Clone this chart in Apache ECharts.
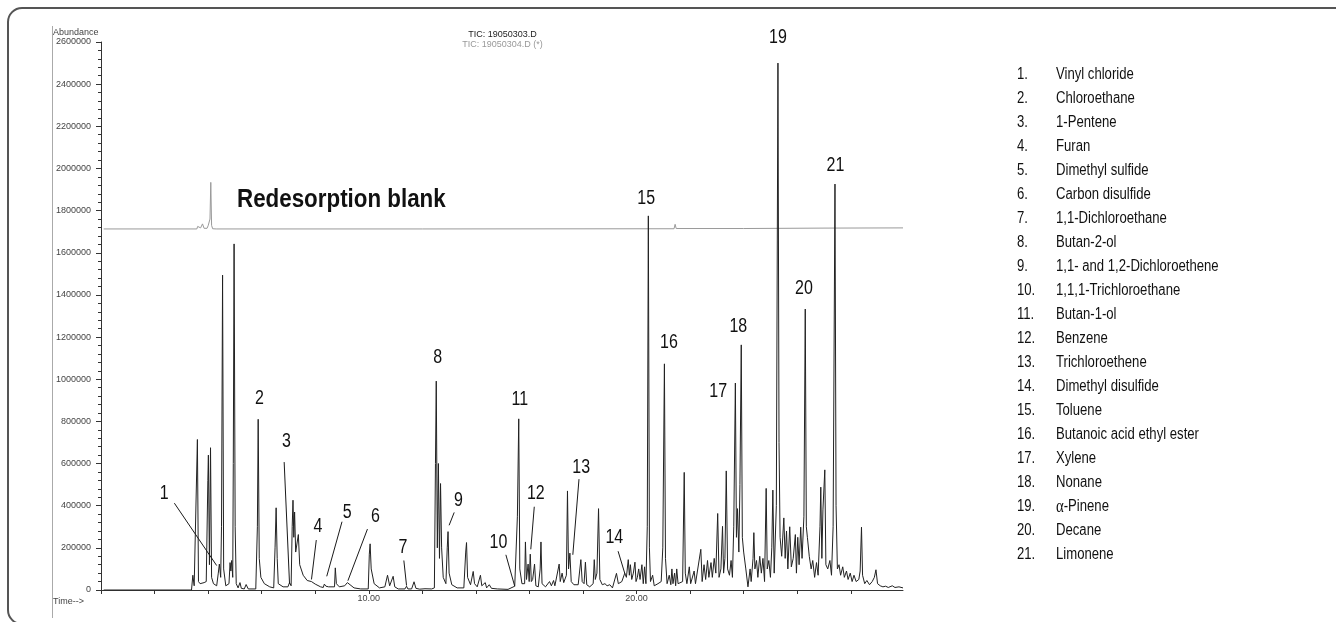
<!DOCTYPE html>
<html>
<head>
<meta charset="utf-8">
<script src="https://cdn.jsdelivr.net/npm/echarts@6/dist/echarts.min.js"></script>
<style>
html,body{margin:0;padding:0;background:#fff;}
#chart{width:1336px;height:622px;}
</style>
</head>
<body>
<div id="chart"></div>
<script>
// ---- Sample chromatogram (TIC: 19050303.D), retention time in minutes ----
const times = [0.1,3.38,3.43,3.48,3.55,3.60,3.64,3.70,3.85,3.93,3.99,4.01,4.05,4.09,4.13,4.20,4.32,4.38,4.42,4.47,4.50,4.54,4.58,4.66,4.78,4.82,4.85,4.88,4.92,4.94,4.97,5.01,5.05,5.12,5.19,5.24,5.35,5.42,5.50,5.78,5.84,5.87,5.91,5.97,6.10,6.30,6.45,6.50,6.54,6.58,6.62,6.80,6.98,7.04,7.10,7.14,7.17,7.20,7.23,7.27,7.32,7.37,7.42,7.55,7.70,7.86,8.00,8.20,8.30,8.34,8.40,8.50,8.72,8.75,8.79,8.90,9.10,9.20,9.30,9.45,9.70,9.98,10.02,10.05,10.09,10.20,10.40,10.60,10.70,10.78,10.85,10.91,10.97,11.10,11.35,11.41,11.46,11.60,11.69,11.76,11.90,12.10,12.35,12.45,12.49,12.52,12.56,12.60,12.64,12.68,12.72,12.78,12.88,12.93,12.96,13.00,13.10,13.30,13.55,13.62,13.65,13.69,13.80,13.90,13.95,14.05,14.17,14.22,14.35,14.40,14.50,14.58,14.80,15.20,15.45,15.50,15.55,15.60,15.64,15.72,15.82,15.85,15.89,15.95,15.99,16.03,16.07,16.12,16.19,16.24,16.33,16.40,16.43,16.47,16.60,16.75,16.82,16.90,16.95,17.11,17.15,17.22,17.28,17.38,17.42,17.46,17.51,17.56,17.66,17.73,17.82,17.92,17.97,18.04,18.09,18.14,18.25,18.38,18.42,18.46,18.52,18.58,18.63,18.72,18.82,18.90,19.00,19.10,19.25,19.32,19.45,19.56,19.62,19.69,19.73,19.77,19.82,19.88,19.94,19.98,20.03,20.08,20.13,20.20,20.25,20.30,20.35,20.40,20.44,20.48,20.52,20.60,20.66,20.80,20.92,20.98,21.04,21.08,21.14,21.22,21.28,21.32,21.36,21.42,21.46,21.50,21.55,21.72,21.78,21.82,21.88,21.97,22.02,22.15,22.20,22.40,22.45,22.52,22.58,22.65,22.70,22.78,22.83,22.90,22.96,23.03,23.08,23.15,23.21,23.25,23.30,23.35,23.40,23.47,23.53,23.58,23.63,23.69,23.73,23.77,23.82,23.86,23.91,23.95,24.00,24.08,24.16,24.24,24.28,24.35,24.38,24.42,24.48,24.53,24.60,24.66,24.72,24.78,24.84,24.88,24.94,25.00,25.05,25.09,25.14,25.22,25.28,25.32,25.36,25.42,25.50,25.55,25.60,25.65,25.72,25.78,25.85,25.93,25.97,26.02,26.07,26.13,26.18,26.25,26.30,26.34,26.38,26.45,26.52,26.58,26.65,26.72,26.78,26.85,26.88,26.92,26.96,27.03,27.07,27.14,27.22,27.28,27.34,27.41,27.45,27.50,27.56,27.62,27.70,27.76,27.84,27.90,27.98,28.05,28.12,28.20,28.30,28.35,28.40,28.44,28.52,28.60,28.70,28.80,28.88,28.94,29.00,29.10,29.20,29.30,29.40,29.55,29.65,29.80,29.95];
const abundance = [0,0,70000,20000,25000,714000,40000,30000,35000,40000,520000,640000,120000,675000,60000,30000,20000,80000,123000,60000,300000,1494000,100000,20000,30000,130000,90000,140000,60000,600000,1642000,300000,30000,10000,35000,8000,5000,26000,5000,5000,300000,810000,150000,60000,30000,15000,10000,200000,390000,150000,30000,15000,15000,35000,20000,300000,426000,250000,370000,180000,180000,263000,120000,70000,45000,40000,28000,15000,12000,28000,18000,15000,15000,105000,30000,15000,20000,35000,25000,10000,5000,5000,170000,219000,100000,30000,10000,15000,70000,20000,25000,65000,15000,5000,5000,18000,5000,5000,39000,8000,4000,6000,5000,10000,600000,991000,200000,600000,150000,505000,200000,60000,30000,200000,277000,80000,25000,10000,10000,180000,225000,60000,25000,88000,30000,15000,70000,20000,35000,10000,25000,8000,5000,3000,18000,10000,350000,812000,100000,30000,30000,228000,50000,123000,40000,170000,40000,50000,123000,20000,15000,100000,228000,30000,15000,40000,20000,45000,20000,123000,40000,80000,35000,70000,470000,100000,175000,40000,25000,20000,25000,144000,40000,30000,132000,25000,15000,30000,144000,50000,80000,386000,50000,25000,30000,20000,25000,10000,79000,30000,40000,80000,60000,144000,70000,120000,50000,80000,132000,40000,60000,100000,50000,120000,30000,110000,30000,300000,1775000,200000,40000,70000,20000,30000,40000,200000,1073000,150000,30000,70000,25000,100000,30000,80000,20000,100000,30000,40000,558000,80000,30000,110000,30000,90000,30000,193000,40000,120000,50000,140000,60000,130000,60000,150000,80000,363000,60000,100000,302000,80000,150000,565000,100000,70000,140000,60000,300000,982000,250000,386000,180000,500000,1163000,250000,180000,100000,15000,100000,40000,150000,272000,100000,140000,60000,160000,80000,150000,40000,482000,100000,140000,60000,200000,474000,80000,400000,2500000,700000,250000,160000,342000,150000,280000,100000,300000,110000,150000,263000,80000,250000,120000,298000,150000,350000,1333000,300000,250000,160000,100000,140000,60000,130000,70000,300000,488000,150000,380000,570000,120000,100000,140000,70000,300000,1926000,400000,100000,120000,70000,110000,60000,90000,50000,80000,40000,70000,40000,50000,90000,298000,70000,30000,45000,25000,40000,60000,96000,30000,20000,15000,18000,12000,20000,12000,15000,10000];

// ---- Redesorption blank (TIC: 19050304.D, offset trace) ----
const blankTimes = [0.1,3.58,3.61,3.65,3.72,3.79,3.85,3.96,4.00,4.04,4.07,4.10,4.13,4.17,4.30,12.0,21.40,21.44,21.48,24.0,27.0,29.95];
const blankAbundance = [1713000,1713000,1725000,1716000,1718000,1737000,1716000,1716000,1728000,1720000,1760000,1934000,1730000,1714000,1713000,1713000,1714000,1735000,1715000,1715000,1717000,1718000];

// ---- Peak annotations ----
const peakNumbers = ['1','2','3','4','5','6','7','8','9','10','11','12','13','14','15','16','17','18','19','20','21'];
const labelTime  = [2.36,5.92,6.93,8.10,9.19,10.25,11.28,12.57,13.35,14.84,15.64,16.24,17.93,19.17,20.36,21.21,23.05,23.80,25.28,26.25,27.43];
const labelAbund = [458000,910000,706000,300000,370000,350000,203000,1105000,424000,226000,903000,456000,582000,250000,1859000,1175000,942000,1249000,2620000,1430000,2012000];
const leaderFrom = [[2.74,412000],[6.84,607000],[8.04,237000],[9.00,324000],[9.95,289000],[11.31,140000],[13.19,368000],[15.12,167000],[16.18,395000],[17.85,526000],[19.31,184000]];
const leaderTo   = [[4.32,116000],[7.04,30000],[7.86,50000],[8.43,65000],[9.22,44000],[11.41,21000],[13.00,307000],[15.45,18000],[16.05,193000],[17.62,167000],[19.56,79000]];

// ---- Compound list ----
const compoundNames = ['Vinyl chloride','Chloroethane','1-Pentene','Furan','Dimethyl sulfide','Carbon disulfide','1,1-Dichloroethane','Butan-2-ol','1,1- and 1,2-Dichloroethene','1,1,1-Trichloroethane','Butan-1-ol','Benzene','Trichloroethene','Dimethyl disulfide','Toluene','Butanoic acid ethyl ester','Xylene','Nonane','\u03b1-Pinene','Decane','Limonene'];

// ---- Axis ticks ----
const xLabeledTicks = [10, 20];

const SANS = '"Liberation Sans", Arial, sans-serif';

const chart = echarts.init(document.getElementById('chart'), null, {renderer: 'canvas'});

const option = {
  animation: false,
  backgroundColor: '#ffffff',
  grid: {left: 101, right: 433, top: 42, bottom: 32, containLabel: false},
  xAxis: {
    type: 'value', min: 0, max: 29.95, interval: 2,
    axisLine: {lineStyle: {color: '#333', width: 1}},
    axisTick: {show: true, length: 4, lineStyle: {color: '#333'}},
    splitLine: {show: false},
    axisLabel: {
      margin: 4, color: '#444', fontSize: 9, fontFamily: SANS,
      showMaxLabel: false,
      formatter: v => xLabeledTicks.indexOf(v) >= 0 ? v.toFixed(2) : ''
    }
  },
  yAxis: {
    type: 'value', min: 0, max: 2600000, interval: 200000,
    axisLine: {show: true, lineStyle: {color: '#333', width: 1}},
    axisTick: {show: true, length: 5, lineStyle: {color: '#333'}},
    minorTick: {show: true, splitNumber: 5, length: 3, lineStyle: {color: '#333'}},
    splitLine: {show: false},
    axisLabel: {margin: 10, color: '#444', fontSize: 9, fontFamily: SANS, formatter: v => String(v)}
  },
  series: [
    {
      type: 'line', name: 'TIC: 19050304.D (*)',
      data: blankTimes.map((t, i) => [t, blankAbundance[i]]),
      showSymbol: false, symbol: 'none',
      lineStyle: {color: '#9a9a9a', width: 1}, z: 2
    },
    {
      type: 'line', name: 'TIC: 19050303.D',
      data: times.map((t, i) => [t, abundance[i]]),
      showSymbol: false, symbol: 'none',
      lineStyle: {color: '#222', width: 1}, z: 3
    },
    {
      type: 'lines', coordinateSystem: 'cartesian2d',
      data: leaderFrom.map((f, i) => ({coords: [f, leaderTo[i]]})),
      lineStyle: {color: '#1a1a1a', width: 1, opacity: 1}, silent: true, z: 4
    }
  ]
};
chart.setOption(option);

// Peak number labels placed through the chart's own axis scales
const peakLabelGraphics = peakNumbers.map((n, i) => {
  const p = chart.convertToPixel({gridIndex: 0}, [labelTime[i], labelAbund[i]]);
  return {
    type: 'text', x: p[0], y: p[1], scaleX: 0.8, z: 10, silent: true,
    style: {text: n, font: '20px ' + SANS, fill: '#111', textAlign: 'center', textVerticalAlign: 'middle'}
  };
});

const legendGraphics = [];
compoundNames.forEach((name, i) => {
  const y = 75 + i * 24.0;
  legendGraphics.push({
    type: 'text', x: 1017, y: y, scaleX: 0.82, silent: true,
    style: {text: (i + 1) + '.', font: '16px ' + SANS, fill: '#111', textVerticalAlign: 'middle'}
  });
  const isAlpha = name.charAt(0) === '\u03b1';
  legendGraphics.push({
    type: 'text', x: 1056, y: y, scaleX: 0.82, silent: true,
    style: isAlpha ? {
      text: '{a|\u03b1}{b|' + name.slice(1) + '}', textVerticalAlign: 'middle',
      rich: {a: {font: '18px "Liberation Serif", serif', fill: '#111'}, b: {font: '16px ' + SANS, fill: '#111'}}
    } : {text: name, font: '16px ' + SANS, fill: '#111', textVerticalAlign: 'middle'}
  });
});

chart.setOption({
  graphic: [
    {type: 'rect', shape: {x: 8, y: 8, width: 1360, height: 616, r: 14}, style: {fill: 'none', stroke: '#555', lineWidth: 2}, z: 0, silent: true},
    {type: 'line', shape: {x1: 52.5, y1: 26, x2: 52.5, y2: 618}, style: {stroke: '#aaa', lineWidth: 1}, silent: true},
    {type: 'text', x: 53, y: 33, style: {text: 'Abundance', font: '9px ' + SANS, fill: '#444', textVerticalAlign: 'middle'}},
    {type: 'text', x: 53, y: 602, style: {text: 'Time-->', font: '9px ' + SANS, fill: '#444', textVerticalAlign: 'middle'}},
    {type: 'text', x: 502.5, y: 35, style: {text: 'TIC: 19050303.D', font: '9px ' + SANS, fill: '#222', textAlign: 'center', textVerticalAlign: 'middle'}},
    {type: 'text', x: 502.5, y: 45, style: {text: 'TIC: 19050304.D (*)', font: '9px ' + SANS, fill: '#999', textAlign: 'center', textVerticalAlign: 'middle'}},
    {type: 'text', x: 237, y: 200, scaleX: 0.86, style: {text: 'Redesorption blank', font: 'bold 26px ' + SANS, fill: '#111', textVerticalAlign: 'middle'}}
  ].concat(peakLabelGraphics, legendGraphics)
});
</script>
</body>
</html>
